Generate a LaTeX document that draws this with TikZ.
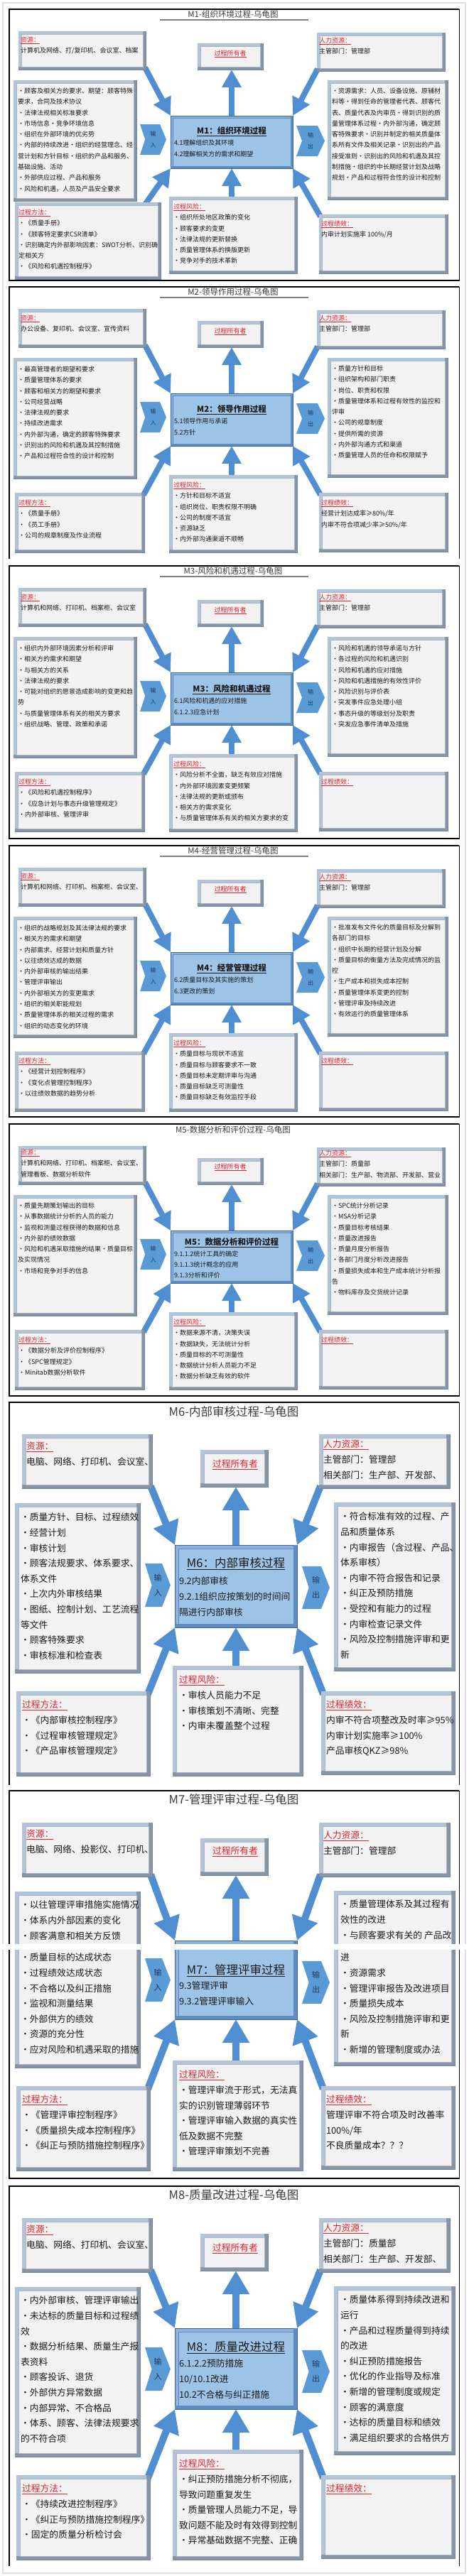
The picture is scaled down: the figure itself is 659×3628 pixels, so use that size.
\documentclass[tikz,border=0pt]{standalone}
\usepackage{fontspec}
\setmainfont{Noto Sans CJK SC}
\usetikzlibrary{arrows.meta,calc,fit}
\pgfdeclarelayer{back}
\pgfdeclarelayer{arr}
\pgfsetlayers{back,arr,main}
\definecolor{bodycol}{HTML}{1A1A1A}
\definecolor{titlecol}{HTML}{3A3A3A}
\definecolor{hdred}{HTML}{E3202B}
\definecolor{boxfill}{HTML}{F2F2F2}
\definecolor{bevlight}{HTML}{B4C4D8}
\definecolor{bevmid}{HTML}{9EAFC4}
\definecolor{bevdark}{HTML}{8995A5}
\definecolor{bevline}{HTML}{6F87A5}
\definecolor{boxinner}{HTML}{A9B6C6}
\definecolor{cenfill}{HTML}{9DC3E6}
\definecolor{cenlight}{HTML}{8DB3DC}
\definecolor{cendark}{HTML}{5E8CC0}
\definecolor{cenline}{HTML}{3F6594}
\definecolor{arrblue}{HTML}{4F8FD1}
\definecolor{chevblue}{HTML}{5B9BD5}
\definecolor{chevtext}{HTML}{1F3A5F}
\definecolor{ulgrey}{HTML}{7F7F7F}
\tikzset{
 txt/.style={inner sep=0pt,outer sep=0pt,align=left,text=bodycol},
 ctxt/.style={inner sep=0pt,outer sep=0pt,text=bodycol},
 arrS/.style={draw=arrblue,line width=8pt,-{Triangle[width=26pt,length=25pt]}},
 arrL/.style={draw=arrblue,line width=10pt,-{Triangle[width=36pt,length=33pt]}},
 pline/.style={draw=black,line width=1.6pt},
}
\newcommand\hd[1]{\textcolor{hdred}{\underline{#1}}}
\newcommand\gbox[6]{%
 \filldraw[fill=bevmid,draw=bevline,line width=0.6pt] (#2,#3) rectangle (#4,#5);
 \fill[bevlight] (#2+0.3,#3+0.3) rectangle (#4-0.3,#3+#6);
 \fill[bevlight] (#2+0.3,#3+0.3) rectangle (#2+#6,#5-0.3);
 \fill[bevdark] (#2+0.3,#5-#6) rectangle (#4-0.3,#5-0.3);
 \fill[bevdark] (#4-#6,#3+0.3) rectangle (#4-0.3,#5-0.3);
 \filldraw[fill=boxfill,draw=boxinner,line width=0.5pt] (#2+#6,#3+#6) rectangle (#4-#6,#5-#6);
 \node[inner sep=0pt,outer sep=0pt,fit={(#2,#3) (#4,#5)}] (#1) {};
}
\newcommand\cbox[6]{%
 \filldraw[fill=cenlight,draw=cenline,line width=0.8pt] (#2,#3) rectangle (#4,#5);
 \fill[cendark] (#2+0.4,#5-#6) rectangle (#4-0.4,#5-0.4);
 \fill[cendark] (#4-#6,#3+0.4) rectangle (#4-0.4,#5-0.4);
 \filldraw[fill=cenfill,draw=cendark,line width=0.5pt] (#2+#6,#3+#6) rectangle (#4-#6,#5-#6);
 \node[inner sep=0pt,outer sep=0pt,fit={(#2,#3) (#4,#5)}] (#1) {};
}
\newcommand\chev[8]{%
 \fill[chevblue] (#2,#3) -- (#4-#6,#3) -- (#4,{(#3+#5)/2}) -- (#4-#6,#5) -- (#2,#5) -- (#2+0.8*#6,{(#3+#5)/2}) -- cycle;
 \node[inner sep=0pt,align=center,text=chevtext,font=#7] (#1) at ({(#2+#4)/2},{(#3+#5)/2}) {#8};
}
\newcommand\tx[6]{\node[txt,anchor=north west,font=\fontsize{#4pt}{#5pt}\selectfont] (#1) at (#2,{#3+0.38*#4-0.7*#5}) {\strut #6};}
\newcommand\ctx[5]{\node[ctxt,anchor=base,font=\fontsize{#4pt}{#4pt}\selectfont] (#1) at (#2,{#3+0.38*#4}) {#5};}
\def\methoff{-1}
\newcommand\spanel[9]{%
 \gbox{#1-res}{26}{#2+31}{205}{#2+85}{4}%
 \gbox{#1-own}{278}{#2+48}{370}{#2+85}{4}%
 \gbox{#1-hr}{446}{#2+33}{626}{#2+87}{4}%
 \gbox{#1-in}{19}{#2+100}{192}{#2+270}{4}%
 \gbox{#1-out}{461}{#2+100}{630}{#2+268}{4}%
 \gbox{#1-meth}{21}{#2+#4}{#3}{#2+#5}{4}%
 \gbox{#1-risk}{238}{#2+#6}{418}{#2+#7}{4}%
 \gbox{#1-perf}{449}{#2+#8}{630}{#2+#9}{4}%
 \cbox{#1-cen}{240}{#2+150}{412}{#2+224}{3}%
 \chev{#1-ich}{197}{#2+162}{234}{#2+205}{9}{\fontsize{8pt}{16pt}\selectfont}{输\\入}%
 \chev{#1-och}{417}{#2+164}{457}{#2+207}{10}{\fontsize{8pt}{16pt}\selectfont}{输\\出}%
 \begin{pgfonlayer}{arr}
 \draw[arrS] ($(#1-res.south east)+(-1,-3)$) -- (#1-cen.north west);
 \draw[arrS] (#1-cen.north) -- (#1-cen.north |- #1-own.south);
 \draw[arrS] ($(#1-hr.south west)+(1,-3)$) -- (#1-cen.north east);
 \draw[arrS] ($(#1-meth.north east)+(\methoff,3)$) -- (#1-cen.south west);
 \draw[arrS] (#1-cen.south |- #1-risk.north) -- (#1-cen.south);
 \draw[arrS] ($(#1-perf.north west)+(2,3)$) -- (#1-cen.south east);
 \end{pgfonlayer}
}
\newcommand\lpanel[5]{%
 \gbox{#1-res}{31}{#2+45}{214}{#2+121}{5}%
 \gbox{#1-own}{282}{#2+67}{377}{#2+119}{5}%
 \gbox{#1-hr}{449}{#2+45}{633}{#2+121}{5}%
 \gbox{#1-in}{21}{#2+142}{197}{#2+381+#3}{5}%
 \gbox{#1-out}{470}{#2+141}{640}{#2+378+#3}{5}%
 \gbox{#1-meth}{23}{#2+407+#3}{211}{#2+526+#3}{5}%
 \gbox{#1-risk}{243}{#2+371+#3}{426}{#2+526+#3}{5}%
 \gbox{#1-perf}{452}{#2+407+#3}{640}{#2+524+#3}{5}%
 \cbox{#1-cen}{246}{#2+#4}{418}{#2+#5}{5}%
 \chev{#1-ich}{204}{#2+227+#3}{240}{#2+288+#3}{12}{\fontsize{11pt}{21pt}\selectfont}{输\\入}%
 \chev{#1-och}{425}{#2+231+#3}{464}{#2+291+#3}{12}{\fontsize{11pt}{21pt}\selectfont}{输\\出}%
 \begin{pgfonlayer}{arr}
 \draw[arrL] ($(#1-res.south east)+(-2,-3)$) -- (#1-cen.north west);
 \draw[arrL] (#1-cen.north) -- (#1-cen.north |- #1-own.south);
 \draw[arrL] ($(#1-hr.south west)+(2,-3)$) -- (#1-cen.north east);
 \draw[arrL] ($(#1-meth.north east)+(-3,4)$) -- (#1-cen.south west);
 \draw[arrL] (#1-cen.south |- #1-risk.north) -- (#1-cen.south);
 \draw[arrL] ($(#1-perf.north west)+(3,4)$) -- (#1-cen.south east);
 \end{pgfonlayer}
}
\newcommand\stitle[3]{%
 \node[ctxt,anchor=base,text=titlecol,font=\fontsize{11.5pt}{12pt}\selectfont] (#1) at (328,{#2+7+0.38*11.5}) {#3};}
\newcommand\ltitle[3]{%
 \node[ctxt,anchor=base,text=titlecol,font=\fontsize{16.5pt}{18pt}\selectfont] (#1) at (329,{#2+0.38*16.5}) {#3};}
\newcommand\pframe[3]{%
 \draw[pline] (13,#2) -- (13,#1) -- (646,#1);
 \draw[draw=black,line width=0.9pt] (646,#1) -- (646,#2);
 \ifnum#3=1 \draw[pline] (12.2,#2) -- (646.5,#2);\fi}
\begin{document}
\begin{tikzpicture}[x=1pt,y=-1pt]
\useasboundingbox (0,0) rectangle (659,3628);
\begin{pgfonlayer}{back}
\fill[white] (0,0) rectangle (659,3628);
\draw[draw=black!13,line width=2pt] (4,4) rectangle (655,3624);
\end{pgfonlayer}

% ---------------- M1 ----------------
\pframe{13}{395}{1}
\stitle{m1-title}{13}{M1-组织环境过程-乌龟图}
\draw[draw=ulgrey,line width=1.8pt] (225,28) -- (434,28);
\def\methoff{-22}
\spanel{m1}{13}{226}{272}{380}{264}{372}{289}{372}
\def\methoff{-1}
\tx{m1-rest}{29}{13+43}{9}{15.3}{\hd{资源：}\\计算机及网络、打/复印机、会议室、档案}
\ctx{m1-ownt}{324}{13+62}{9}{\hd{过程所有者}}
\tx{m1-hrt}{449}{13+44}{9}{15.3}{\hd{人力资源：}\\主管部门：管理部}
\tx{m1-int}{25}{13+115}{9}{15.3}{•顾客及相关方的要求、期望：顾客特殊\\要求，合同及技术协议\\•法律法规相关标准要求\\•市场信息•竞争环境信息\\•组织在外部环境的优劣势\\•内部的持续改进•组织的经营理念、经\\营计划和方针目标•组织的产品和服务、\\基础设施、活动\\•外部供应过程、产品和服务\\•风险和机遇，人员及产品安全要求}
\ctx{m1-cent}{326}{13+171}{11.5}{\textbf{\underline{M1：组织环境过程}}}
\tx{m1-cens}{245}{13+188}{9}{16}{4.1理解组织及其环境\\4.2理解相关方的需求和期望}
\tx{m1-outt}{467}{13+115}{9}{15.3}{•资源需求：人员、设备设施、原辅材\\料等•得到任命的管理者代表、顾客代\\表、质量代表及内审员•得到识别的质\\量管理体系过程•内外部沟通，确定顾\\客特殊要求•识别并制定的相关质量体\\系所有文件及相关记录•识别出的产品\\接受准则•识别出的风险和机遇及其控\\制措施•组织的中长期经营计划及战略\\规划•产品和过程符合性的设计和控制}
\tx{m1-metht}{26}{13+286}{9}{15.3}{\hd{过程方法：}\\•《质量手册》\\•《顾客特定要求CSR清单》\\•识别确定内外部影响因素：SWOT分析、识别确\\定相关方\\•《风险和机遇控制程序》}
\tx{m1-riskt}{244}{13+278}{9}{15.3}{\hd{过程风险：}\\•组织所处地区政策的变化\\•顾客要求的变更\\•法律法规的更新替换\\•质量管理体系的换版更新\\•竞争对手的技术革新}
\tx{m1-perft}{452}{13+302}{9}{15.3}{\hd{过程绩效：}\\内审计划实施率 100\%/月}

% ---------------- M2 ----------------
\pframe{404}{787}{0}
\stitle{m2-title}{404}{M2-领导作用过程-乌龟图}
\draw[draw=ulgrey,line width=1.8pt] (225,419) -- (434,419);
\spanel{m2}{404}{203}{290}{374}{265}{374}{290}{373}
\tx{m2-rest}{29}{404+44}{9}{15.3}{\hd{资源：}\\办公设备、复印机、会议室、宣传资料}
\ctx{m2-ownt}{324}{404+62}{9}{\hd{过程所有者}}
\tx{m2-hrt}{449}{404+44}{9}{15.3}{\hd{人力资源：}\\主管部门：管理部}
\tx{m2-int}{25}{404+116}{9}{15.3}{•最高管理者的期望和要求\\•质量管理体系的要求\\•顾客和相关方的期望和要求\\•公司经营战略\\•法律法规的要求\\•持续改进需求\\•内外部沟通，确定的顾客特殊要求\\•识别出的风险和机遇及其控制措施\\•产品和过程符合性的设计和控制}
\ctx{m2-cent}{326}{404+172}{11.5}{\textbf{\underline{M2：领导作用过程}}}
\tx{m2-cens}{245}{404+189}{9}{16}{5.1领导作用与承诺\\5.2方针}
\tx{m2-outt}{467}{404+115}{9}{15.3}{•质量方针和目标\\•组织架构和部门职责\\•岗位、职责和权限\\•质量管理体系和过程有效性的监控和\\评审\\•公司的规章制度\\•提供所需的资源\\•内外部沟通方式和渠道\\•质量管理人员的任命和权限赋予}
\tx{m2-metht}{26}{404+304}{9}{15.3}{\hd{过程方法：}\\•《质量手册》\\•《员工手册》\\•公司的规章制度及作业流程}
\tx{m2-riskt}{244}{404+279}{9}{15.3}{\hd{过程风险：}\\•方针和目标不适宜\\•组织岗位、职责权限不明确\\•公司的制度不适宜\\•资源缺乏\\•内外部沟通渠道不顺畅}
\tx{m2-perft}{452}{404+304}{9}{15.3}{\hd{过程绩效：}\\经营计划达成率≥80\%/年\\内审不符合项减少率≥50\%/年}

% ---------------- M3 ----------------
\pframe{797}{1181}{1}
\stitle{m3-title}{797}{M3-风险和机遇过程-乌龟图}
\draw[draw=ulgrey,line width=1.8pt] (225,812) -- (434,812);
\spanel{m3}{797}{203}{290}{374}{265}{374}{290}{373}
\tx{m3-rest}{29}{797+44}{9}{15.3}{\hd{资源：}\\计算机和网络、打印机、档案柜、会议室}
\ctx{m3-ownt}{324}{797+62}{9}{\hd{过程所有者}}
\tx{m3-hrt}{449}{797+44}{9}{15.3}{\hd{人力资源：}\\主管部门：管理部}
\tx{m3-int}{25}{797+116}{9}{15.3}{•组织内外部环境因素分析和评审\\•相关方的需求和期望\\•与相关方的关系\\•法律法规的要求\\•可能对组织的愿景造成影响的变更和趋\\势\\•与质量管理体系有关的相关方要求\\•组织战略、管理、政策和承诺}
\ctx{m3-cent}{326}{797+173}{11.5}{\textbf{\underline{M3：风险和机遇过程}}}
\tx{m3-cens}{245}{797+190}{9}{16}{6.1风险和机遇的应对措施\\6.1.2.3应急计划}
\tx{m3-outt}{467}{797+116}{9}{15.3}{•风险和机遇的领导承诺与方针\\•各过程的风险和机遇识别\\•风险和机遇的应对措施\\•风险和机遇措施的有效性评价\\•风险识别与评价表\\•突发事件应急处理小组\\•事态升级的等级划分及职责\\•突发应急事件清单及措施}
\tx{m3-metht}{26}{797+304}{9}{15.3}{\hd{过程方法：}\\•《风险和机遇控制程序》\\•《应急计划与事态升级管理规定》\\•内外部审核、管理评审}
\tx{m3-riskt}{244}{797+279}{9}{15.3}{\hd{过程风险：}\\•风险分析不全面，缺乏有效应对措施\\•内外部环境因素变更频繁\\•法律法规的更新或颁布\\•相关方的需求变化\\•与质量管理体系有关的相关方要求的变}
\tx{m3-perft}{452}{797+304}{9}{15.3}{\hd{过程绩效：}}

% ---------------- M4 ----------------
\pframe{1191}{1573}{1}
\stitle{m4-title}{1191}{M4-经营管理过程-乌龟图}
\draw[draw=ulgrey,line width=1.8pt] (225,1206) -- (434,1206);
\spanel{m4}{1191}{203}{290}{374}{264}{374}{290}{373}
\tx{m4-rest}{29}{1191+43}{9}{15.3}{\hd{资源：}\\计算机和网络、打印机、档案柜、会议室、}
\ctx{m4-ownt}{324}{1191+61}{9}{\hd{过程所有者}}
\tx{m4-hrt}{449}{1191+44}{9}{15.3}{\hd{人力资源：}\\主管部门：管理部}
\tx{m4-int}{25}{1191+116}{9}{15.3}{•组织的战略规划及其法律法规的要求\\•相关方的需求和期望\\•内部需求、经营计划和质量方针\\•以往绩效达成的数据\\•内外部审核的输出结果\\•管理评审输出\\•内外部相关方的变更需求\\•组织的相关职能规划\\•质量管理体系的相关过程的需求\\•组织的动态变化的环境}
\ctx{m4-cent}{326}{1191+172}{11.5}{\textbf{\underline{M4：经营管理过程}}}
\tx{m4-cens}{245}{1191+189}{9}{16}{6.2质量目标及其实施的策划\\6.3更改的策划}
\tx{m4-outt}{467}{1191+115}{9}{15.3}{•批准发布文件化的质量目标及分解到\\各部门的目标\\•组织中长期的经营计划及分解\\•质量目标的衡量方法及完成情况的监\\控\\•生产成本和损失成本控制\\•质量管理体系变更的控制\\•管理评审及持续改进\\•有效运行的质量管理体系}
\tx{m4-metht}{26}{1191+303}{9}{15.3}{\hd{过程方法：}\\•《经营计划控制程序》\\•《变化点管理控制程序》\\•以往绩效数据的趋势分析}
\tx{m4-riskt}{244}{1191+278}{9}{15.3}{\hd{过程风险：}\\•质量目标与现状不适宜\\•质量目标与顾客要求不一致\\•质量目标未定期评审与沟通\\•质量目标缺乏可测量性\\•质量目标缺乏有效监控手段}
\tx{m4-perft}{452}{1191+303}{9}{15.3}{\hd{过程绩效：}}

% ---------------- M5 ----------------
\pframe{1583}{1966}{1}
\stitle{m5-title}{1584}{M5-数据分析和评价过程-乌龟图}
\spanel{m5}{1583}{203}{290}{374}{265}{374}{290}{373}
\tx{m5-rest}{29}{1583+40}{9}{15.3}{\hd{资源：}\\计算机和网络、打印机、档案柜、会议室、\\管理看板、数据分析软件}
\ctx{m5-ownt}{324}{1583+60}{9}{\hd{过程所有者}}
\tx{m5-hrt}{449}{1583+41}{9}{15.3}{\hd{人力资源：}\\主管部门：质量部\\相关部门：生产部、物流部、开发部、营业}
\tx{m5-int}{25}{1583+115}{9}{15.3}{•质量先期策划输出的目标\\•从事数据统计分析的人员的能力\\•监视和测量过程获得的数据和信息\\•内外部的绩效数据\\•风险和机遇采取措施的结果•质量目标\\及实现情况\\•市场和竞争对手的信息}
\ctx{m5-cent}{326}{1583+166}{11.5}{\textbf{\underline{M5：数据分析和评价过程}}}
\tx{m5-cens}{245}{1583+183}{9}{15}{9.1.1.2统计工具的确定\\9.1.1.3统计概念的应用\\9.1.3分析和评价}
\tx{m5-outt}{467}{1583+115}{9}{15.3}{•SPC统计分析记录\\•MSA分析记录\\•质量目标考核结果\\•质量改进报告\\•质量月度分析报告\\•各部门月度分析改进报告\\•质量损失成本和生产成本统计分析报\\告\\•物料库存及交货统计记录}
\tx{m5-metht}{26}{1583+304}{9}{15.3}{\hd{过程方法：}\\•《数据分析及评价控制程序》\\•《SPC管理规定》\\•Minitab数据分析软件}
\tx{m5-riskt}{244}{1583+279}{9}{15.3}{\hd{过程风险：}\\•数据来源不清，决策失误\\•数据缺失，无法统计分析\\•质量目标的不可测量性\\•数据统计分析人员能力不足\\•数据分析缺乏有效的软件}
\tx{m5-perft}{452}{1583+304}{9}{15.3}{\hd{过程绩效：}}

% ---------------- M6 ----------------
\pframe{1975}{2514}{0}
\ltitle{m6-title}{1988}{M6-内部审核过程-乌龟图}
\lpanel{m6}{1975}{0}{201}{317}
\tx{m6-rest}{37}{1975+62}{12.8}{21.6}{\hd{资源：}\\电脑、网络、打印机、会议室、}
\ctx{m6-ownt}{331}{1975+87}{12.8}{\hd{过程所有者}}
\tx{m6-hrt}{455}{1975+59}{12.8}{21.6}{\hd{人力资源：}\\主管部门：管理部\\相关部门：生产部、开发部、}
\tx{m6-int}{29}{1975+162}{12.8}{21.6}{•质量方针、目标、过程绩效\\•经营计划\\•审核计划\\•顾客法规要求、体系要求、\\体系文件\\•上次内外审核结果\\•图纸、控制计划、工艺流程\\等文件\\•顾客特殊要求\\•审核标准和检查表}
\ctx{m6-cent}{332}{1975+226}{16.5}{\underline{M6：内部审核过程}}
\tx{m6-cens}{252}{1975+252}{12.8}{21.6}{9.2内部审核\\9.2.1组织应按策划的时间间\\隔进行内部审核}
\tx{m6-outt}{479}{1975+161}{12.8}{21.6}{•符合标准有效的过程、产\\品和质量体系\\•内审报告（含过程、产品、\\体系审核）\\•内审不符合报告和记录\\•纠正及预防措施\\•受控和有能力的过程\\•内审检查记录文件\\•风险及控制措施评审和更\\新}
\tx{m6-metht}{31}{1975+426}{12.8}{21.6}{\hd{过程方法：}\\•《内部审核控制程序》\\•《过程审核管理规定》\\•《产品审核管理规定》}
\tx{m6-riskt}{252}{1975+391}{12.8}{21.6}{\hd{过程风险：}\\•审核人员能力不足\\•审核策划不清晰、完整\\•内审未覆盖整个过程}
\tx{m6-perft}{459}{1975+426}{12.8}{21.6}{\hd{过程绩效：}\\内审不符合项整改及时率≥95\%\\内审计划实施率≥100\%\\产品审核QKZ≥98\%}

% ---------------- M7 ----------------
\pframe{2522}{3068}{1}
\ltitle{m7-title}{2534}{M7-管理评审过程-乌龟图}
\lpanel{m7}{2522}{9}{211}{322}
\tx{m7-rest}{37}{2583}{12.8}{21.6}{\hd{资源：}\\电脑、网络、投影仪、打印机、}
\ctx{m7-ownt}{331}{2607}{12.8}{\hd{过程所有者}}
\tx{m7-hrt}{455}{2585}{12.8}{21.6}{\hd{人力资源：}\\主管部门：管理部}
\tx{m7-inA}{29}{2683}{12.8}{21.6}{•以往管理评审措施实施情况\\•体系内外部因素的变化\\•顾客满意和相关方反馈}
\tx{m7-inB}{29}{2757}{12.8}{21.6}{•质量目标的达成状态\\•过程绩效达成状态\\•不合格以及纠正措施\\•监视和测量结果\\•外部供方的绩效\\•资源的充分性\\•应对风险和机遇采取的措施}
\ctx{m7-cent}{332}{2774}{16.5}{\underline{M7：管理评审过程}}
\tx{m7-cens}{252}{2797}{12.8}{21.6}{9.3管理评审\\9.3.2管理评审输入}
\tx{m7-outA}{479}{2682}{12.8}{21.6}{•质量管理体系及其过程有\\效性的改进\\•与顾客要求有关的 产品改}
\tx{m7-outB}{479}{2757}{12.8}{21.6}{进\\•资源需求\\•管理评审报告及改进项目\\•质量损失成本\\•风险及控制措施评审和更\\新\\•新增的管理制度或办法}
\tx{m7-metht}{31}{2957}{12.8}{21.6}{\hd{过程方法：}\\•《管理评审控制程序》\\•《质量损失成本控制程序》\\•《纠正与预防措施控制程序》}
\tx{m7-riskt}{252}{2922}{12.8}{21.6}{\hd{过程风险：}\\•管理评审流于形式，无法真\\实的识别管理薄弱环节\\•管理评审输入数据的真实性\\低及数据不完整\\•管理评审策划不完善}
\tx{m7-perft}{459}{2957}{12.8}{21.6}{\hd{过程绩效：}\\管理评审不符合项及时改善率\\100\%/年\\不良质量成本？？？}

% ---------------- M8 ----------------
\pframe{3079}{3614}{0}
\ltitle{m8-title}{3091}{M8-质量改进过程-乌龟图}
\lpanel{m8}{3079}{0}{200}{314}
\tx{m8-rest}{37}{3140}{12.8}{21.6}{\hd{资源：}\\电脑、网络、打印机、会议室、}
\ctx{m8-ownt}{331}{3166}{12.8}{\hd{过程所有者}}
\tx{m8-hrt}{455}{3138}{12.8}{21.6}{\hd{人力资源：}\\主管部门：质量部\\相关部门：生产部、开发部、}
\tx{m8-int}{29}{3240}{12.8}{21.6}{•内外部审核、管理评审输出\\•未达标的质量目标和过程绩\\效\\•数据分析结果、质量生产报\\表资料\\•顾客投诉、退货\\•外部供方异常数据\\•内部异常、不合格品\\•体系、顾客、法律法规要求\\的不符合项}
\ctx{m8-cent}{332}{3305}{16.5}{\underline{M8：质量改进过程}}
\tx{m8-cens}{252}{3329}{12.8}{21.6}{6.1.2.2预防措施\\10/10.1改进\\10.2不合格与纠正措施}
\tx{m8-outt}{479}{3239}{12.8}{21.6}{•质量体系得到持续改进和\\运行\\•产品和过程质量得到持续\\的改进\\•纠正预防措施报告\\•优化的作业指导及标准\\•新增的管理制度或规定\\•顾客的满意度\\•达标的质量目标和绩效\\•满足组织要求的合格供方}
\tx{m8-metht}{31}{3505}{12.8}{21.6}{\hd{过程方法：}\\•《持续改进控制程序》\\•《纠正与预防措施控制程序》\\•固定的质量分析检讨会}
\tx{m8-riskt}{252}{3470}{12.8}{21.6}{\hd{过程风险：}\\•纠正预防措施分析不彻底，\\导致问题重复发生\\•质量管理人员能力不足，导\\致问题不能及时有效得到控制\\•异常基础数据不完整、正确}
\tx{m8-perft}{459}{3505}{12.8}{21.6}{\hd{过程绩效：}}

% white seam across M7
\fill[white] (0,2738) rectangle (659,2746);
\end{tikzpicture}
\end{document}
